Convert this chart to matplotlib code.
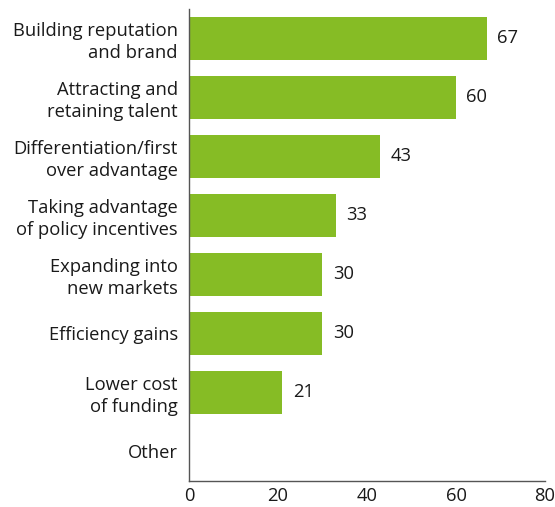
import matplotlib.pyplot as plt

plt.rcParams['font.family'] = ['Open Sans', 'DejaVu Sans']

categories = [
    'Building reputation\nand brand',
    'Attracting and\nretaining talent',
    'Differentiation/first\nover advantage',
    'Taking advantage\nof policy incentives',
    'Expanding into\nnew markets',
    'Efficiency gains',
    'Lower cost\nof funding',
    'Other',
]
values = [67, 60, 43, 33, 30, 30, 21, None]

green = '#86bc25'
text_color = '#1a1a1a'
fs = 13.2

fig = plt.figure(figsize=(5.55, 5.07), dpi=100)
ax = fig.add_axes([0.3405, 0.0513, 0.6415, 0.9310])

ypos = list(range(len(categories)))
for y, v in zip(ypos, values):
    if v is None:
        continue
    ax.barh(y, v, height=0.73, color=green)
    ax.text(v + 2.3, y, str(v), va='center', ha='left', fontsize=fs, color=text_color)

ax.set_ylim(len(categories) - 0.5, -0.5)
ax.set_xlim(0, 80)
ax.set_xticks([0, 20, 40, 60, 80])
ax.set_yticks(ypos)
ax.set_yticklabels(categories, fontsize=fs, color=text_color, linespacing=1.25)
ax.tick_params(axis='both', length=0, labelsize=fs, colors=text_color)
ax.tick_params(axis='y', pad=8)
ax.tick_params(axis='x', pad=4)

for side in ['top', 'right']:
    ax.spines[side].set_visible(False)
for side in ['left', 'bottom']:
    ax.spines[side].set_color('#555555')
    ax.spines[side].set_linewidth(1.0)

fig.savefig('out.png', dpi=100)
